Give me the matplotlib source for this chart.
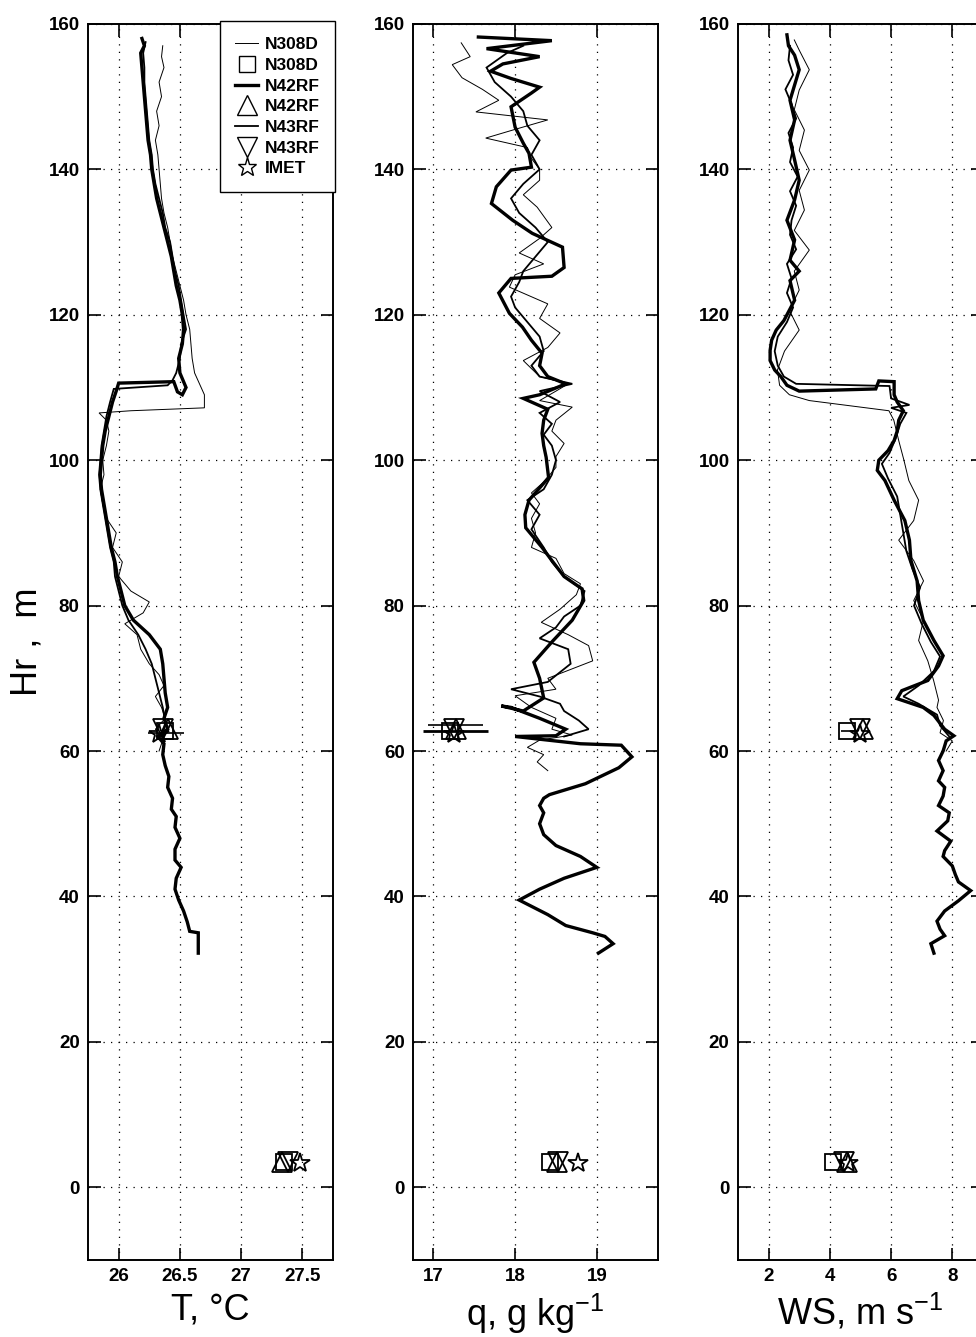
import matplotlib
matplotlib.use("Agg")
import matplotlib.pyplot as plt
from matplotlib.lines import Line2D

plt.rcParams["font.family"] = ["Liberation Sans", "DejaVu Sans"]
plt.rcParams["mathtext.fontset"] = "custom"
plt.rcParams["mathtext.rm"] = "Liberation Sans"
plt.rcParams["mathtext.it"] = "Liberation Sans:italic"
plt.rcParams["mathtext.bf"] = "Liberation Sans:bold"

# ---------------- temperature profiles (height m, T degC) ----------------
t_n308d_h = [60, 61.5, 63, 64.5, 66, 67.5, 69, 70.5, 72, 74, 76, 77.5, 79, 80.5, 82, 84, 86, 88,
             90, 92, 94, 96, 98, 100, 102, 104, 105.5, 106.5, 106.8, 107.2, 109, 110.5, 112, 114,
             116, 118, 120, 122, 124, 126, 128, 130, 132, 134, 136, 138, 140, 142, 144, 146, 148,
             150, 152, 154, 155.5, 157]
t_n308d = [26.33, 26.36, 26.30, 26.38, 26.35, 26.30, 26.37, 26.33, 26.25, 26.18, 26.15, 26.05,
           26.20, 26.25, 26.10, 26.00, 26.03, 25.95, 25.98, 25.90, 25.87, 25.85, 25.88, 25.87,
           25.90, 25.92, 25.90, 25.84, 26.10, 26.70, 26.70, 26.66, 26.62, 26.60, 26.59, 26.58,
           26.55, 26.53, 26.50, 26.47, 26.44, 26.42, 26.40, 26.37, 26.35, 26.34, 26.33, 26.32,
           26.30, 26.33, 26.31, 26.35, 26.33, 26.37, 26.35, 26.36]

t_n42rf_h = [32.2, 35.0, 35.2, 36.5, 38, 39.5, 41, 42.5, 44, 45, 46.5, 48, 49.5, 51, 52, 53.5, 55,
             56.5, 58, 59.5, 61, 62, 63, 64.5, 66, 68, 70, 72, 74, 76, 78, 80, 82, 84, 86, 88, 90,
             92, 94, 96, 98, 100, 102, 104, 106, 108, 109.5, 110.6, 110.8, 109.4, 109.0, 110.0,
             112, 114, 116, 118, 120, 122, 124, 126, 128, 130, 132, 134, 136, 138, 140, 142, 144,
             146, 148, 150, 152, 154, 156, 157, 158]
t_n42rf = [26.65, 26.65, 26.58, 26.56, 26.53, 26.49, 26.46, 26.47, 26.51, 26.46, 26.46, 26.50,
           26.46, 26.47, 26.43, 26.44, 26.40, 26.41, 26.38, 26.36, 26.37, 26.32, 26.40, 26.37,
           26.40, 26.38, 26.37, 26.36, 26.34, 26.25, 26.12, 26.05, 26.02, 25.99, 25.97, 25.94,
           25.92, 25.90, 25.88, 25.86, 25.85, 25.86, 25.87, 25.89, 25.92, 25.95, 25.98, 26.00,
           26.45, 26.48, 26.52, 26.55, 26.50, 26.49, 26.52, 26.53, 26.52, 26.50, 26.47, 26.45,
           26.43, 26.40, 26.37, 26.34, 26.31, 26.29, 26.27, 26.26, 26.24, 26.23, 26.22, 26.21,
           26.20, 26.19, 26.18, 26.21, 26.19]

t_n43rf_h = [62, 64, 66, 68, 70, 72, 74, 76, 78, 80, 82, 84, 86, 88, 90, 92, 94, 96, 98, 100, 102,
             104, 106, 108, 109.8, 110.3, 111, 112, 114, 116, 118, 120, 122, 124, 126, 128, 130,
             132, 134, 136, 138, 140, 142, 144, 146, 148, 150, 152, 154, 156, 157.5]
t_n43rf = [26.36, 26.38, 26.36, 26.33, 26.30, 26.27, 26.22, 26.16, 26.08, 26.03, 26.00, 25.97,
           25.96, 25.93, 25.91, 25.89, 25.87, 25.85, 25.84, 25.85, 25.86, 25.88, 25.90, 25.93,
           25.96, 26.40, 26.44, 26.47, 26.50, 26.51, 26.55, 26.53, 26.51, 26.49, 26.46, 26.44,
           26.42, 26.38, 26.36, 26.33, 26.30, 26.28, 26.27, 26.25, 26.24, 26.23, 26.22, 26.21,
           26.21, 26.20, 26.22]

# ---------------- specific humidity profiles (height m, q g/kg) ----------------
q_n308d_h = [57.3, 58.5, 59.5, 60.5, 61.5, 62.2, 63.0, 64.5, 66.0, 67.6, 68.5, 70.0, 72.4, 74.5,
             76.0, 77.7, 79.5, 81.5, 83.0, 84.4, 86.5, 88.0, 90.0, 92.0, 94.0, 95.5, 97.0, 99.0,
             100.5, 102.3, 104.0, 105.5, 107.3, 108.2, 109.5, 110.5, 111.5, 113.7, 115.5, 117.5,
             119.5, 121.5, 123.8, 125.5, 127.0, 128.5, 130.5, 132.0, 134.8, 136.5, 138.5, 140.0,
             141.5, 143.0, 144.3, 145.5, 146.8, 147.9, 149.5, 151.0, 152.6, 154.4, 155.5, 157.4]
q_n308d = [18.40, 18.27, 18.35, 18.15, 18.30, 18.70, 18.45, 18.50, 18.20, 18.00, 18.50, 18.40,
           18.95, 18.90, 18.65, 18.32, 18.55, 18.75, 18.80, 18.60, 18.50, 18.20, 18.25, 18.20,
           18.30, 18.20, 18.35, 18.50, 18.50, 18.60, 18.45, 18.50, 18.70, 18.30, 18.50, 18.65,
           18.30, 18.10, 18.40, 18.55, 18.30, 18.40, 17.93, 18.00, 18.35, 18.05, 18.30, 18.45,
           18.27, 18.10, 18.30, 18.30, 18.20, 18.15, 17.64, 18.00, 18.40, 17.52, 17.80, 17.60,
           17.35, 17.23, 17.45, 17.34]

q_n42rf_h = [32.2, 33.5, 34.5, 35, 36, 37.5, 39.5, 41, 42.5, 44, 45.5, 47, 48.5, 50, 51.5, 52.5,
             53.5, 54, 55.5, 57.7, 59.2, 60.8, 61.0, 61.5, 62.0, 62.1, 63, 64.5, 66, 66.2, 65.5,
             67.3, 70, 72.2, 75, 78, 80.7, 82.3, 84, 86.2, 88, 90.7, 92.5, 94.5, 97.6, 100.4, 102,
             103.7, 105.5, 107, 108.5, 109, 110.5, 111.5, 113, 114.7, 116.5, 118.3, 120.2, 123,
             125, 125.3, 126.5, 129.3, 131.2, 133, 135.3, 137.6, 139.9, 140.3, 142.2, 143.6, 145.8,
             148.6, 150.5, 151.3, 152.5, 153.5, 154.5, 155.5, 156.6, 157.7, 158.2]
q_n42rf = [19.02, 19.20, 19.10, 18.95, 18.62, 18.40, 18.05, 18.30, 18.60, 19.00, 18.80, 18.50,
           18.35, 18.30, 18.35, 18.30, 18.35, 18.42, 18.86, 19.27, 19.43, 19.30, 18.80, 18.40,
           18.00, 18.50, 18.62, 18.30, 17.95, 17.83, 18.10, 18.35, 18.30, 18.23, 18.45, 18.70,
           18.84, 18.82, 18.60, 18.45, 18.33, 18.13, 18.12, 18.17, 18.41, 18.38, 18.35, 18.33,
           18.35, 18.40, 18.10, 18.30, 18.62, 18.40, 18.30, 18.33, 18.20, 18.09, 17.93, 17.80,
           17.95, 18.45, 18.60, 18.58, 18.21, 17.97, 17.71, 17.77, 17.95, 18.20, 18.17, 18.10,
           18.00, 17.95, 18.20, 18.30, 17.95, 17.70, 17.85, 18.30, 17.65, 18.45, 17.55]

q_n43rf_h = [62, 63, 64.2, 65.5, 66.5, 67.5, 68.5, 69.5, 72, 74, 75.5, 77, 78.5, 80, 82, 84, 86,
             88, 90.5, 92.5, 94.5, 96, 98, 100, 102, 103.5, 105, 106.5, 108, 109.5, 110.5, 111.5,
             113, 115, 117, 119, 121, 122.5, 124.5, 126, 128, 130, 132, 134, 136, 138, 140, 142,
             144, 146, 148, 150, 152, 154, 156, 157]
q_n43rf = [18.60, 18.90, 18.78, 18.60, 18.55, 18.30, 17.95, 18.40, 18.68, 18.65, 18.30, 18.50,
           18.60, 18.80, 18.85, 18.60, 18.45, 18.35, 18.20, 18.30, 18.15, 18.35, 18.45, 18.50,
           18.45, 18.35, 18.45, 18.30, 18.55, 18.30, 18.70, 18.30, 18.20, 18.35, 18.30, 18.15,
           18.00, 17.95, 18.05, 18.10, 18.25, 18.40, 18.25, 18.05, 17.95, 18.10, 18.30, 18.20,
           18.30, 18.15, 18.10, 17.95, 17.75, 17.65, 17.90, 18.10]

# ---------------- wind speed profiles (height m, WS m/s) ----------------
ws_n308d_h = [60, 61.4, 62.5, 64.2, 66, 67, 69.7, 72.4, 75.2, 78, 80.7, 83.4, 86.2, 89, 91.7, 94.5,
              97.2, 100, 102.7, 105.5, 106.8, 107.5, 108.2, 109, 110.3, 112.4, 115, 117.9, 120.6,
              123.4, 126, 128.9, 131.6, 134.4, 137.1, 139.9, 142.6, 145.4, 148.2, 150.9, 153.7,
              156.4, 157.8]
ws_n308d = [7.80, 8.00, 7.60, 7.71, 7.50, 7.55, 7.39, 7.20, 6.90, 7.06, 6.74, 7.06, 6.74, 6.25,
            6.74, 6.90, 6.58, 6.42, 6.25, 6.09, 5.93, 4.63, 3.33, 2.68, 2.36, 2.29, 2.52, 3.00,
            2.68, 3.00, 2.84, 3.33, 2.84, 3.17, 3.00, 3.33, 3.00, 3.17, 2.84, 3.00, 3.33, 3.00,
            2.84]

ws_n42rf_h = [32.2, 33.5, 34.6, 35.5, 36.6, 38, 39.4, 40.8, 42, 43, 44.2, 45.5, 46.3, 47.6, 49,
              50.4, 51.5, 52.5, 53.8, 55, 55.9, 57.3, 58.7, 60, 61.4, 62.1, 63, 64.9, 66, 67.2,
              68.3, 69.7, 71.7, 73.1, 75.2, 78, 80.7, 83.4, 86.2, 89, 91.7, 94.5, 97.2, 98.6, 100,
              101.3, 102.7, 104, 105.5, 106.8, 108, 109, 110.8, 110.9, 109.8, 109.5, 110.3, 111.5,
              112.4, 113.7, 115.1, 116.5, 117.9, 119.2, 122, 124.7, 126, 127.5, 130.3, 133, 135.8,
              138.5, 141.3, 144, 146.8, 149.5, 151.6, 153.7, 155.7, 157, 158.5]
ws_n42rf = [7.40, 7.30, 7.75, 7.60, 7.50, 7.75, 8.20, 8.60, 8.20, 8.10, 8.00, 7.70, 7.75, 7.95,
            7.50, 7.85, 7.90, 7.55, 7.70, 7.75, 7.55, 7.70, 7.55, 7.70, 7.80, 8.05, 7.75, 7.40,
            7.05, 6.20, 6.35, 7.20, 7.55, 7.70, 7.40, 7.05, 6.90, 6.85, 6.65, 6.60, 6.45, 6.10,
            5.80, 5.55, 5.60, 5.90, 6.10, 6.20, 6.25, 6.40, 6.20, 6.10, 6.10, 5.60, 5.50, 3.00,
            2.60, 2.40, 2.20, 2.05, 2.05, 2.10, 2.25, 2.50, 2.85, 2.70, 3.00, 2.70, 2.85, 2.60,
            2.85, 3.00, 2.85, 2.70, 2.85, 2.70, 2.85, 3.00, 2.85, 2.65, 2.60]

ws_n43rf_h = [62, 63.5, 65, 66.5, 67.5, 69, 71, 73, 75, 77.5, 80, 82.5, 85, 87.5, 90, 92.5, 95,
              97.5, 99.5, 101, 103, 105, 106.5, 107.2, 107.6, 108.5, 110.2, 110.5, 111.5, 113, 115,
              117, 119, 121, 123, 125, 127, 129, 131, 133, 135, 137, 139, 141, 143, 145, 147, 149,
              151, 153, 155, 157]
ws_n43rf = [7.90, 7.60, 7.50, 6.90, 6.40, 6.90, 7.40, 7.60, 7.30, 7.00, 6.75, 6.95, 6.70, 6.50,
            6.40, 6.30, 6.20, 5.90, 5.70, 5.95, 6.15, 6.30, 6.50, 6.00, 6.60, 6.00, 5.95, 2.90,
            2.50, 2.30, 2.20, 2.30, 2.60, 2.80, 2.60, 2.75, 2.60, 2.90, 2.70, 2.75, 2.90, 2.70,
            2.95, 2.70, 2.80, 2.65, 2.90, 2.75, 2.55, 2.80, 2.65, 2.70]

# ---------------- point measurements: N308D, N42RF, N43RF, IMET ----------------
mark_names = ["N308D", "N42RF", "N43RF", "IMET"]
mark_styles = ["s", "^", "v", "*"]
mark_hi_h = [62.8, 63.0, 63.0, 62.4]
mark_lo_h = [3.5, 3.5, 3.5, 3.4]

t_mark_hi = [26.38, 26.40, 26.36, 26.33]
t_mark_lo = [27.35, 27.33, 27.38, 27.48]
q_mark_hi = [17.20, 17.28, 17.25, 17.25]
q_mark_lo = [18.43, 18.51, 18.53, 18.77]
ws_mark_hi = [4.56, 5.08, 4.99, 5.00]
ws_mark_lo = [4.10, 4.56, 4.47, 4.60]

# horizontal spread bars at the upper level
t_err_c, t_err_half, t_err_h = [26.385], [0.145], [62.5]
q_err_c, q_err_half, q_err_h = [17.27, 17.27], [0.34, 0.40], [63.6, 62.7]
ws_err_c, ws_err_half, ws_err_h = [4.60], [0.25], [62.8]

panels = [
    dict(lines=[(t_n308d, t_n308d_h), (t_n42rf, t_n42rf_h), (t_n43rf, t_n43rf_h)],
         hi=t_mark_hi, lo=t_mark_lo, err=(t_err_c, t_err_half, t_err_h),
         xlim=(25.75, 27.75), xticks=[26, 26.5, 27, 27.5],
         xticklabels=["26", "26.5", "27", "27.5"], xlabel="T, °C"),
    dict(lines=[(q_n308d, q_n308d_h), (q_n42rf, q_n42rf_h), (q_n43rf, q_n43rf_h)],
         hi=q_mark_hi, lo=q_mark_lo, err=(q_err_c, q_err_half, q_err_h),
         xlim=(16.75, 19.75), xticks=[17, 18, 19],
         xticklabels=["17", "18", "19"], xlabel="q, g kg$^{-1}$"),
    dict(lines=[(ws_n308d, ws_n308d_h), (ws_n42rf, ws_n42rf_h), (ws_n43rf, ws_n43rf_h)],
         hi=ws_mark_hi, lo=ws_mark_lo, err=(ws_err_c, ws_err_half, ws_err_h),
         xlim=(1, 9), xticks=[2, 4, 6, 8],
         xticklabels=["2", "4", "6", "8"], xlabel="WS, m s$^{-1}$"),
]

line_widths = [0.7, 2.4, 1.3]
err_widths = [1.2, 2.0]
mark_sizes = [12, 15, 15, 15]

fig = plt.figure(figsize=(9.76, 13.37), dpi=100)
lefts = [0.0902, 0.4232, 0.7561]

for left, p in zip(lefts, panels):
    ax = fig.add_axes([left, 0.0576, 0.2510, 0.9245])
    for (vals, hts), lw in zip(p["lines"], line_widths):
        ax.plot(vals, hts, color="k", lw=lw, solid_joinstyle="miter")
    c, half, h = p["err"]
    for i in range(len(c)):
        ax.errorbar([c[i]], [h[i]], xerr=[half[i]], fmt="none", ecolor="k",
                    elinewidth=err_widths[i], capsize=0)
    for i, m in enumerate(mark_styles):
        ax.plot([p["hi"][i]], [mark_hi_h[i]], ls="none", marker=m, ms=mark_sizes[i],
                mfc="none", mec="k", mew=1.3)
        ax.plot([p["lo"][i]], [mark_lo_h[i]], ls="none", marker=m, ms=mark_sizes[i],
                mfc="none", mec="k", mew=1.3)

    ax.set_xlim(*p["xlim"])
    ax.set_ylim(-10, 160)
    ax.set_xticks(p["xticks"])
    ax.set_xticklabels(p["xticklabels"])
    ax.set_yticks(range(0, 161, 20))
    ax.grid(True, color="k", linestyle=(0, (1, 5)), linewidth=0.9)
    ax.tick_params(direction="in", top=True, right=True, length=9, width=1.2,
                   labelsize=13.5, pad=6)
    for lbl in ax.get_xticklabels() + ax.get_yticklabels():
        lbl.set_fontweight("bold")
    for sp in ax.spines.values():
        sp.set_linewidth(1.4)
    ax.set_xlabel(p["xlabel"], fontsize=26, labelpad=5)
    if left == lefts[0]:
        ax.set_ylabel("Hr ,  m", fontsize=26, labelpad=3)
        handles = [
            Line2D([], [], color="k", lw=line_widths[0]),
            Line2D([], [], ls="none", marker="s", ms=12, mfc="none", mec="k"),
            Line2D([], [], color="k", lw=line_widths[1]),
            Line2D([], [], ls="none", marker="^", ms=15, mfc="none", mec="k"),
            Line2D([], [], color="k", lw=line_widths[2]),
            Line2D([], [], ls="none", marker="v", ms=15, mfc="none", mec="k"),
            Line2D([], [], ls="none", marker="*", ms=14, mfc="none", mec="k"),
        ]
        labels = ["N308D", "N308D", "N42RF", "N42RF", "N43RF", "N43RF", "IMET"]
        leg = ax.legend(handles, labels, loc="upper right", bbox_to_anchor=(1.01, 1.002),
                        borderaxespad=0, fontsize=12.5, handlelength=1.3, handletextpad=0.4,
                        labelspacing=0.32, borderpad=0.9, fancybox=False, framealpha=1,
                        edgecolor="k", prop={"weight": "bold", "size": 12.5})
        leg.get_frame().set_linewidth(1.0)

fig.savefig("out.png", dpi=100)
